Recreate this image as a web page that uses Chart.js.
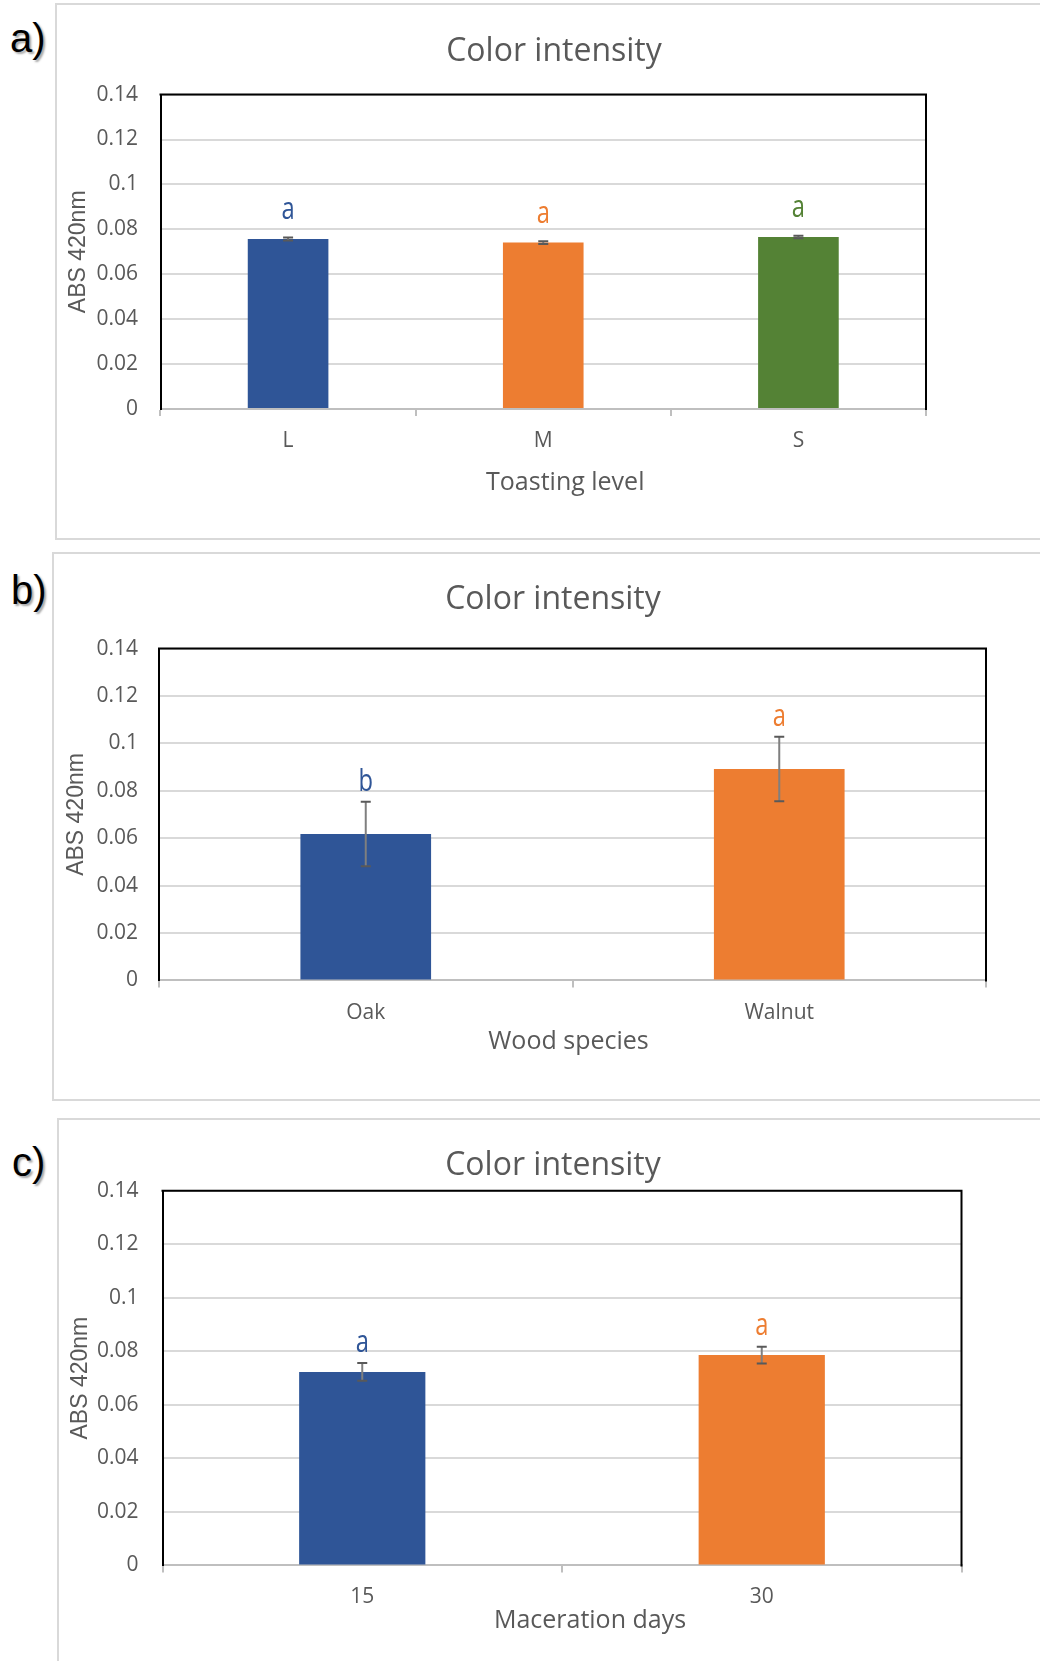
<!DOCTYPE html>
<html><head><meta charset="utf-8">
<script src="https://cdn.jsdelivr.net/npm/chart.js@4.4.1/dist/chart.umd.min.js"></script>
<style>
html,body{margin:0;padding:0;width:1040px;height:1661px;overflow:hidden;background:#fff;}
.panel{position:absolute;border:2px solid #d9d9d9;box-sizing:border-box;}
canvas{position:absolute;}
.lab{position:absolute;font-family:"Liberation Sans",Arial,sans-serif;font-size:40px;color:#000;line-height:1;text-shadow:2px 2px 2px rgba(0,0,0,0.35);}
</style></head><body>
<div class="panel" style="left:55px;top:3px;width:1000px;height:537px"></div>
<div class="panel" style="left:52px;top:552px;width:1000px;height:549px"></div>
<div class="panel" style="left:57px;top:1118px;width:1000px;height:600px"></div>
<div class="lab" style="left:10px;top:18px">a)</div>
<div class="lab" style="left:11px;top:570px">b)</div>
<div class="lab" style="left:12px;top:1142px">c)</div>
<canvas id="ca" width="996" height="535" style="left:56px;top:4px;width:996px;height:535px"></canvas>
<canvas id="cb" width="1000" height="547" style="left:53px;top:553px;width:1000px;height:547px"></canvas>
<canvas id="cc" width="990" height="542" style="left:58px;top:1119px;width:990px;height:542px"></canvas>
<script>
// ---- data ----
const titleText = 'Color intensity';
const yTitle = 'ABS 420nm';
const yTickValues = [0, 0.02, 0.04, 0.06, 0.08, 0.1, 0.12, 0.14];

const toastCategories = ['L', 'M', 'S'];
const toastValues = [0.0757, 0.0741, 0.0766];
const toastErrors = [0.0007, 0.0006, 0.0006];
const toastLetters = ['a', 'a', 'a'];

const woodCategories = ['Oak', 'Walnut'];
const woodValues = [0.0618, 0.0892];
const woodErrors = [0.0136, 0.0136];
const woodLetters = ['b', 'a'];

const daysCategories = ['15', '30'];
const daysValues = [0.0723, 0.0786];
const daysErrors = [0.0033, 0.0031];
const daysLetters = ['a', 'a'];

// ---- styles ----
const BLUE = '#2F5597', ORANGE = '#ED7D31', GREEN = '#548235';
const TXT = '#595959';

const overlay = {
  id: 'overlay',
  afterDatasetsDraw(chart, args, opts) {
    const ctx = chart.ctx, xs = chart.scales.x, ys = chart.scales.y, a = chart.chartArea;
    ctx.save();
    ctx.strokeStyle = '#000'; ctx.lineWidth = 2;
    ctx.beginPath();
    ctx.moveTo(a.left - 1, a.top); ctx.lineTo(a.right, a.top); ctx.lineTo(a.right, a.bottom + 1);
    ctx.stroke();
    const vals = chart.data.datasets[0].data;
    vals.forEach((v, i) => {
      const x = xs.getPixelForValue(i);
      const yH = ys.getPixelForValue(v + opts.errors[i]);
      const yL = ys.getPixelForValue(v - opts.errors[i]);
      ctx.strokeStyle = '#7f7f7f'; ctx.lineWidth = 2;
      ctx.beginPath(); ctx.moveTo(x, yH); ctx.lineTo(x, yL); ctx.stroke();
      ctx.strokeStyle = '#595959'; ctx.lineWidth = 2;
      ctx.beginPath();
      ctx.moveTo(x - 5, yH); ctx.lineTo(x + 5, yH);
      ctx.moveTo(x - 5, yL); ctx.lineTo(x + 5, yL);
      ctx.stroke();
      ctx.save();
      ctx.translate(x, yH - opts.gap);
      ctx.scale(0.88, 1.18);
      ctx.fillStyle = opts.colors[i];
      ctx.font = '27px "Open Sans"';
      ctx.textAlign = 'center'; ctx.textBaseline = 'alphabetic';
      ctx.fillText(opts.letters[i], 0, 0);
      ctx.restore();
    });
    // x axis title
    ctx.fillStyle = TXT;
    ctx.font = '25px "Open Sans"';
    ctx.textAlign = 'center'; ctx.textBaseline = 'middle';
    ctx.fillText(opts.xTitle, (a.left + a.right) / 2 + opts.xTitleDx, a.bottom + opts.xTitleDy);
    ctx.restore();
  }
};

function makeChart(id, c) {
  new Chart(document.getElementById(id), {
    type: 'bar',
    data: { labels: c.labels, datasets: [{ data: c.values, backgroundColor: c.colors, borderWidth: 0, barPercentage: 0.316, categoryPercentage: 1 }] },
    options: {
      responsive: false, animation: false, devicePixelRatio: 1,
      layout: { padding: 0 },
      plugins: {
        legend: { display: false }, tooltip: { enabled: false },
        title: { display: true, text: titleText, color: TXT, font: { family: 'Open Sans', size: 32, weight: 'normal', lineHeight: 1.2 }, padding: { top: c.titleTop, bottom: c.titleBottom } },
        overlay: { errors: c.errors, letters: c.letters, colors: c.colors, gap: c.gap, xTitle: c.xTitle, xTitleDx: c.xTitleDx, xTitleDy: c.xTitleDy }
      },
      scales: {
        x: {
          afterFit: s => { s.height = c.xH; },
          grid: { display: true, drawOnChartArea: false, drawTicks: true, tickLength: 7, color: '#bfbfbf', lineWidth: 2, offset: true },
          border: { display: true, color: '#bfbfbf', width: 2 },
          ticks: { color: TXT, font: { family: 'Open Sans', size: 21 }, padding: c.xTickPad, maxRotation: 0 }
        },
        y: {
          min: 0, max: 0.14,
          afterFit: s => { s.width = c.yW; },
          afterBuildTicks: s => { s.ticks = yTickValues.map(v => ({ value: v })); },
          ticks: { color: TXT, font: { family: 'Open Sans', size: 21 }, padding: c.yTickPad, callback: v => String(parseFloat(Number(v).toFixed(2))) },
          grid: { color: '#d9d9d9', lineWidth: 2, drawTicks: false },
          border: { display: true, color: '#000', width: 2 },
          title: { display: true, text: yTitle, color: TXT, font: { family: 'Liberation Sans', size: 23, lineHeight: 1.2 }, padding: { top: c.yTitleTop, bottom: 0 } }
        },
        yR: {
          type: 'linear', position: 'right', display: true,
          afterFit: s => { s.width = c.padRight; },
          grid: { display: false }, border: { display: false }, ticks: { display: false }
        }
      }
    },
    plugins: [overlay]
  });
}

makeChart('ca', {
  labels: toastCategories, values: toastValues, errors: toastErrors, letters: toastLetters,
  colors: [BLUE, ORANGE, GREEN], xTitle: 'Toasting level',
  padRight: 126, titleTop: 28.3, titleBottom: 23.9, xH: 130, yW: 104.5,
  xTickPad: 12.5, xTitleDx: 22, xTitleDy: 73.5, yTickPad: 22.5, yTitleTop: 8.5, gap: 18.4
});
makeChart('cb', {
  labels: woodCategories, values: woodValues, errors: woodErrors, letters: woodLetters,
  colors: [BLUE, ORANGE], xTitle: 'Wood species',
  padRight: 67, titleTop: 27.8, titleBottom: 29.4, xH: 119.6, yW: 106,
  xTickPad: 13.5, xTitleDx: -4, xTitleDy: 61.5, yTickPad: 21, yTitleTop: 9.5, gap: 11
});
makeChart('cc', {
  labels: daysCategories, values: daysValues, errors: daysErrors, letters: daysLetters,
  colors: [BLUE, ORANGE], xTitle: 'Maceration days',
  padRight: 86.5, titleTop: 28, titleBottom: 5.4, xH: 95.6, yW: 104.5,
  xTickPad: 12.5, xTitleDx: 28, xTitleDy: 55.5, yTickPad: 24, yTitleTop: 8.5, gap: 11.6
});
</script>
</body></html>
